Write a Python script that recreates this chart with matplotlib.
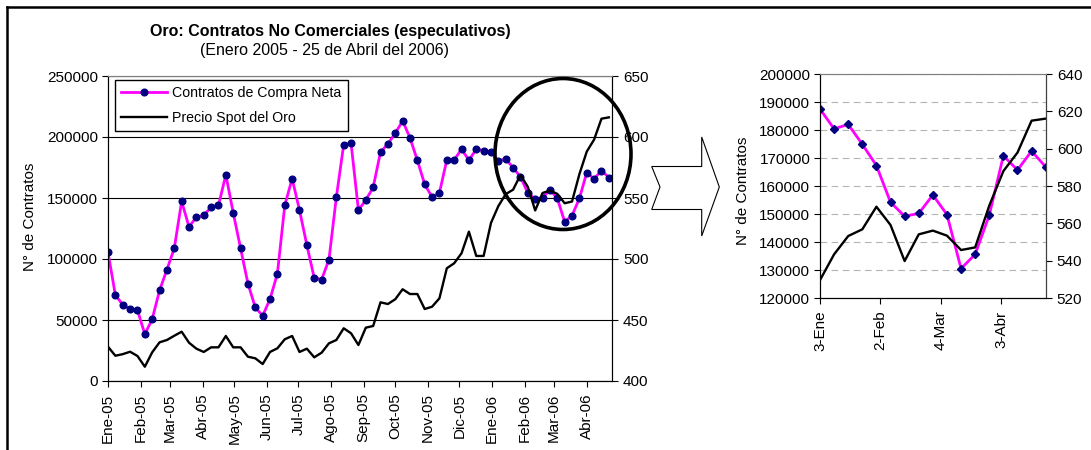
import datetime as dt
import matplotlib
matplotlib.use('Agg')
import matplotlib.pyplot as plt
from matplotlib.patches import Ellipse, Polygon
from matplotlib.lines import Line2D

plt.rcParams['font.family'] = ['Liberation Sans', 'DejaVu Sans']
plt.rcParams['font.size'] = 11

# Contratos de compra neta (semanal, Ene-05 .. 25-Abr-06)
contratos = [105500, 70500, 62500, 59000, 58100, 38400, 50700, 74300, 91300, 108800,
             147200, 126400, 134300, 135700, 142500, 143900, 169100, 137900, 108800, 79800,
             60300, 53500, 67200, 88000, 143900, 165900, 140100, 111300, 84500, 83100,
             99500, 150500, 193800, 194900, 140100, 148300, 158700, 187700, 194300, 203100,
             213200, 199300, 180900, 161200, 150700, 154300, 181200, 181200, 190000, 181000,
             190000, 188900,
             187500, 180400, 182000, 174900, 167300, 154200, 149200, 150200, 156800, 149800,
             130500, 135600, 149600, 170800, 165700, 172500, 166800]

# Precio spot del oro
precio = [428.1, 420.7, 422.0, 424.0, 420.5, 411.7, 423.5, 431.7, 433.6, 437.1,
          440.4, 431.4, 426.5, 423.8, 427.6, 427.6, 436.9, 427.6, 427.6, 419.9,
          418.6, 413.9, 423.8, 426.8, 434.2, 436.9, 423.8, 426.5, 419.4, 423.2,
          430.9, 433.6, 443.2, 439.1, 429.5, 443.7, 445.1, 464.5, 463.1, 467.0,
          475.2, 471.3, 471.3, 459.0, 460.9, 467.8, 492.4, 496.5, 504.7, 522.4,
          502.5, 502.5,
          529.6, 543.4, 553.2, 556.8, 568.9, 559.1, 539.8, 554.1, 556.1, 553.4,
          545.7, 547.1, 569.5, 588.0, 597.9, 615.0, 616.1]

fechas = [dt.date(2005, 1, 1) + dt.timedelta(days=7 * i) for i in range(len(contratos))]

meses = ['Ene-05', 'Feb-05', 'Mar-05', 'Abr-05', 'May-05', 'Jun-05', 'Jul-05', 'Ago-05',
         'Sep-05', 'Oct-05', 'Nov-05', 'Dic-05', 'Ene-06', 'Feb-06', 'Mar-06', 'Abr-06']
mes_fechas = [dt.date(2005 + (i // 12), i % 12 + 1, 1) for i in range(len(meses))]

# detalle 2006
n2 = 17
fechas2 = [dt.date(2006, 1, 3) + dt.timedelta(days=7 * i) for i in range(n2)]
contratos2 = contratos[-n2:]
precio2 = precio[-n2:]
ticks2 = [dt.date(2006, 1, 3), dt.date(2006, 2, 2), dt.date(2006, 3, 4), dt.date(2006, 4, 3)]
labels2 = ['3-Ene', '2-Feb', '4-Mar', '3-Abr']

W, H = 1091, 450
fig = plt.figure(figsize=(W / 100, H / 100), dpi=100)

# ---- grafico principal
ax = fig.add_axes([108 / W, 1 - 381 / H, (612 - 108) / W, (381 - 76) / H])
l1, = ax.plot(fechas, contratos, color='magenta', lw=2.0, marker='o', ms=4.8,
              mfc='#000080', mec='#000080', label='Contratos de Compra Neta')
ax.set_ylim(0, 250000)
ax.set_yticks(range(0, 250001, 50000))
ax.set_xlim(dt.date(2005, 1, 1), dt.date(2006, 4, 25))
ax.set_xticks(mes_fechas)
ax.set_xticklabels(meses, rotation=90)
ax.yaxis.grid(True, color='black', lw=0.8)
ax.set_axisbelow(True)
ax.tick_params(direction='out', length=4, pad=3)
ax.tick_params(axis='x', pad=5)
ax.spines['top'].set_color('#808080')

ax2 = ax.twinx()
l2, = ax2.plot(fechas, precio, color='black', lw=1.7, label='Precio Spot del Oro')
ax2.set_ylim(400, 650)
ax2.set_yticks(range(400, 651, 50))
ax2.tick_params(direction='out', length=4, pad=4)
ax2.spines['top'].set_color('#808080')

ax2.legend([l1, l2], ['Contratos de Compra Neta', 'Precio Spot del Oro'],
           loc='upper left', bbox_to_anchor=(115 / W, 1 - 80 / H),
           bbox_transform=fig.transFigure, fancybox=False, edgecolor='black',
           framealpha=1, borderaxespad=0, handlelength=3.2, labelspacing=0.75,
           borderpad=0.45, handletextpad=0.4, fontsize=10.2)

fig.text(330 / W, 1 - 31.5 / H, 'Oro: Contratos No Comerciales (especulativos)',
         ha='center', va='center', fontweight='bold', fontsize=11.5)
fig.text(324 / W, 1 - 50 / H, '(Enero 2005 - 25 de Abril del 2006)',
         ha='center', va='center', fontsize=11.5)
fig.text(30 / W, 1 - 217 / H, 'N° de Contratos', rotation=90, ha='center', va='center')

# ---- detalle
ax3 = fig.add_axes([820 / W, 1 - 298 / H, (1045.7 - 820) / W, (298 - 74) / H])
ax3.plot(fechas2, contratos2, color='magenta', lw=2.0, marker='D', ms=4.2,
         mfc='#000080', mec='#000080')
ax3.set_ylim(120000, 200000)
ax3.set_yticks(range(120000, 200001, 10000))
ax3.set_xlim(dt.date(2006, 1, 3), dt.date(2006, 4, 25))
ax3.set_xticks(ticks2)
ax3.set_xticklabels(labels2, rotation=90)
ax3.yaxis.grid(True, color='#b4b4b4', lw=0.8, ls=(0, (6, 4)))
ax3.set_axisbelow(True)
ax3.tick_params(direction='out', length=4, pad=3)
ax3.tick_params(axis='x', pad=5)
ax3.spines['top'].set_color('#808080')

ax4 = ax3.twinx()
ax4.plot(fechas2, precio2, color='black', lw=1.7)
ax4.set_ylim(520, 640)
ax4.set_yticks(range(520, 641, 20))
ax4.tick_params(direction='out', length=4, pad=4)
ax4.spines['top'].set_color('#808080')
ax4.spines['right'].set_color('#404040')

fig.text(742.7 / W, 1 - 191 / H, 'N° de Contratos', rotation=90, ha='center', va='center')

# ---- adornos: circulo, flecha y marco
fig.add_artist(Ellipse((563 / W, 1 - 154 / H), 136 / W, 151 / H, transform=fig.transFigure,
                       fill=False, ec='black', lw=2.6))
flecha = [(651.7, 166.5), (701.7, 166.5), (701.7, 137), (719.3, 187), (701.7, 236),
          (701.7, 209.5), (651.7, 209.5), (660, 187)]
fig.add_artist(Polygon([(x / W, 1 - y / H) for x, y in flecha], closed=True,
                       transform=fig.transFigure, fc='white', ec='black', lw=0.8))
fig.add_artist(Line2D([7 / W, 1], [1 - 7 / H, 1 - 7 / H], transform=fig.transFigure,
                      color='black', lw=1.8))
fig.add_artist(Line2D([7 / W, 7 / W], [0, 1 - 7 / H], transform=fig.transFigure,
                      color='black', lw=1.8))

fig.savefig('out.png', dpi=100)
